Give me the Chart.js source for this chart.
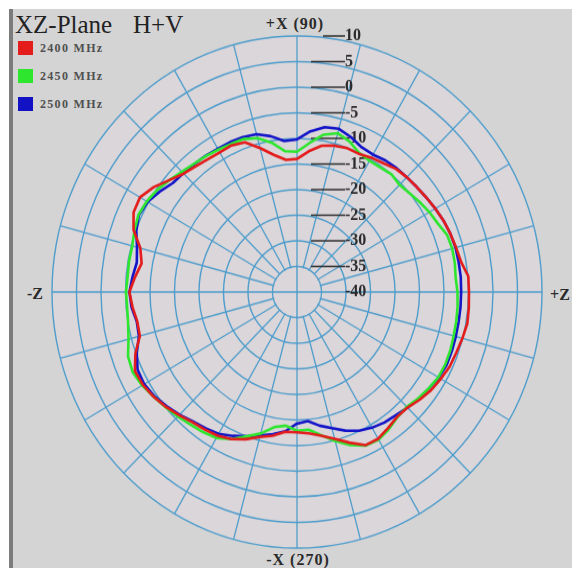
<!DOCTYPE html>
<html>
<head>
<meta charset="utf-8">
<script src="https://cdn.jsdelivr.net/npm/chart.js@4.4.1/dist/chart.umd.min.js"></script>
<style>
html,body{margin:0;padding:0;background:#fff;width:572px;height:568px;overflow:hidden;position:relative;}
#frame{position:absolute;left:9px;top:9px;width:563px;height:559px;background:#d4d4d4;border-left:4px solid #7c7c7c;box-sizing:border-box;}
#wrap{position:absolute;left:32px;top:27px;width:530px;height:530px;transform:scaleY(1.045);transform-origin:50% 50%;}
.t{position:absolute;font-family:"Liberation Serif","DejaVu Serif",serif;white-space:nowrap;color:#2a2a2a;}
.ax{font-weight:bold;font-size:16px;transform:translate(-50%,-50%);line-height:16px;}
.title{font-size:25px;line-height:25px;top:12px;color:#222;}
.sw{position:absolute;left:18px;width:15px;height:14px;}
.lg{font-size:12px;font-weight:bold;letter-spacing:1.3px;color:#505050;left:40px;line-height:12px;}
</style>
</head>
<body>
<div id="frame"></div>
<div class="t title" style="left:15px;">XZ-Plane</div>
<div class="t title" style="left:133px;">H+V</div>
<div class="sw" style="top:41px;background:#e41c1c;"></div>
<div class="sw" style="top:69px;background:#2fe62f;"></div>
<div class="sw" style="top:97px;background:#1212c4;"></div>
<div class="t lg" style="top:42px;">2400 MHz</div>
<div class="t lg" style="top:70px;">2450 MHz</div>
<div class="t lg" style="top:98px;">2500 MHz</div>
<div class="t ax" style="left:295px;top:24px;letter-spacing:1px;">+X (90)</div>
<div class="t ax" style="left:298px;top:560px;letter-spacing:1px;">-X (270)</div>
<div class="t ax" style="left:35px;top:294px;">-Z</div>
<div class="t ax" style="left:560px;top:295px;">+Z</div>
<div id="wrap"><canvas id="c" width="530" height="530"></canvas></div>
<script>
// angle in degrees: 0 = +Z (right), 90 = +X (top), 180 = -Z (left), 270 = -X (bottom)
const angles = [0,5,10,15,20,25,30,35,40,45,50,55,60,65,70,75,80,85,90,95,100,105,110,115,120,125,130,135,140,145,150,155,160,165,170,175,180,185,190,195,200,205,210,215,220,225,230,235,240,245,250,255,260,265,270,275,280,285,290,295,300,305,310,315,320,325,330,335,340,345,350,355];
const red2400 = [-4.9,-4.9,-6.0,-6.4,-6.7,-7.0,-7.4,-7.8,-8.1,-8.3,-8.6,-9.3,-9.7,-10.2,-10.1,-10.4,-11.0,-12.4,-14.0,-14.1,-12.8,-10.9,-8.9,-8.4,-8.5,-8.3,-7.9,-7.3,-6.0,-4.3,-3.0,-3.2,-4.5,-6.9,-7.8,-6.8,-5.8,-6.3,-6.9,-6.8,-4.9,-3.5,-3.7,-4.3,-5.1,-6.0,-6.8,-7.2,-7.6,-8.3,-9.4,-10.7,-11.5,-12.6,-12.6,-12.3,-11.5,-10.3,-8.7,-7.0,-6.9,-7.6,-8.2,-8.1,-7.3,-6.6,-6.1,-5.6,-5.4,-5.05,-4.7,-4.8];
const green2450 = [-7.25,-7.5,-7.3,-7.2,-7.4,-8.3,-8.8,-9.4,-10.0,-10.4,-10.0,-10.3,-10.4,-10.0,-8.7,-7.9,-8.8,-10.8,-12.6,-12.4,-10.4,-8.9,-8.2,-8.1,-7.9,-7.6,-7.3,-6.8,-6.0,-5.2,-4.6,-4.3,-4.7,-5.2,-5.2,-5.3,-5.1,-5.2,-5.0,-4.4,-3.3,-3.0,-3.5,-4.3,-5.0,-5.6,-6.2,-6.6,-7.1,-8.3,-10.0,-11.4,-13.2,-13.8,-12.9,-13.0,-11.6,-9.9,-8.2,-6.9,-6.7,-7.3,-8.1,-8.3,-7.7,-7.2,-6.7,-6.6,-6.7,-6.9,-7.0,-7.1];
const blue2500 = [-6.5,-6.45,-6.5,-6.5,-6.7,-7.0,-7.4,-7.8,-8.1,-8.3,-8.4,-8.6,-9.0,-8.8,-7.8,-7.0,-7.3,-8.5,-10.2,-10.4,-9.1,-8.1,-7.8,-7.7,-7.7,-7.5,-7.4,-7.2,-6.9,-5.8,-4.8,-4.4,-5.1,-6.2,-6.8,-6.3,-5.8,-6.1,-6.8,-6.6,-5.2,-4.1,-4.0,-4.5,-5.3,-6.1,-7.0,-7.5,-8.0,-9.0,-10.0,-11.0,-11.8,-12.7,-14.3,-14.7,-13.5,-12.5,-11.2,-10.1,-9.4,-8.9,-8.6,-8.1,-7.6,-7.15,-6.6,-6.3,-6.35,-6.45,-6.5,-6.5];
const seriesNames = ['2400 MHz','2450 MHz','2500 MHz'];
const seriesColors = ['#e41c1c','#2fe62f','#1414c8'];
const rMin = -40, rMax = 10, rStep = 5;

const GRID = '#4f9dcc';
const INNER_BG = '#dad6da';

// Chart.js radar starts at the top and runs clockwise: reorder the angle list for it.
const step = angles[1] - angles[0];
const order = angles.map((_, k) => angles.indexOf((((90 - k * step) % 360) + 360) % 360));
const labels = order.map(i => angles[i] + '°');
const pick = arr => order.map(i => arr[i]);

const polarPlugin = {
  id: 'polarDecor',
  beforeDraw(chart) {
    const s = chart.scales.r, ctx = chart.ctx;
    ctx.save();
    ctx.fillStyle = INNER_BG;
    ctx.beginPath();
    ctx.arc(s.xCenter, s.yCenter, s.drawingArea, 0, Math.PI * 2);
    ctx.fill();
    ctx.restore();
  },
  beforeDatasetsDraw(chart) {
    const s = chart.scales.r, ctx = chart.ctx;
    const r0 = s.getDistanceFromCenterForValue(rMin + rStep);
    ctx.save();
    // spokes start at the innermost ring; only the axes cross the centre
    ctx.fillStyle = INNER_BG;
    ctx.beginPath();
    ctx.arc(s.xCenter, s.yCenter, r0 - 0.9, 0, Math.PI * 2);
    ctx.fill();
    ctx.strokeStyle = GRID;
    ctx.lineWidth = 1.4;
    ctx.beginPath();
    ctx.moveTo(s.xCenter - r0, s.yCenter); ctx.lineTo(s.xCenter + r0, s.yCenter);
    ctx.moveTo(s.xCenter, s.yCenter - r0); ctx.lineTo(s.xCenter, s.yCenter + r0);
    ctx.stroke();
    // dB labels with leader lines
    ctx.font = 'bold 16px "Liberation Serif", serif';
    ctx.fillStyle = '#2a2a2a';
    ctx.textAlign = 'left';
    ctx.textBaseline = 'middle';
    s.ticks.forEach(t => {
      const y = s.yCenter - s.getDistanceFromCenterForValue(t.value);
      const x1 = s.xCenter + 48;
      if (t.value !== rMin) {
        ctx.strokeStyle = '#2f2f2f';
        ctx.lineWidth = 1.5;
        ctx.beginPath();
        ctx.moveTo(s.xCenter + (t.value === rMax ? 26 : 14), y);
        ctx.lineTo(x1, y);
        ctx.stroke();
      }
      ctx.fillText(t.label, x1, y);
    });
    ctx.restore();
  }
};

new Chart(document.getElementById('c'), {
  type: 'radar',
  data: {
    labels: labels,
    datasets: [red2400, green2450, blue2500].map((arr, i) => ({
      label: seriesNames[i],
      data: pick(arr),
      borderColor: seriesColors[i],
      borderWidth: 2.6,
      fill: false,
      pointRadius: 0,
      tension: 0
    }))
  },
  options: {
    responsive: false,
    animation: false,
    events: [],
    layout: { padding: 20 },
    elements: { line: { borderJoinStyle: 'round' } },
    plugins: { legend: { display: false }, tooltip: { enabled: false }, title: { display: false } },
    scales: {
      r: {
        min: rMin,
        max: rMax,
        startAngle: 0,
        ticks: { stepSize: rStep, display: false },
        pointLabels: { display: false },
        grid: { circular: true, color: GRID, lineWidth: 1.4 },
        angleLines: {
          color: GRID,
          lineWidth: ctx => (ctx.index % (15 / step) === 0 ? 1.3 : 0)
        }
      }
    }
  },
  plugins: [polarPlugin]
});
</script>
</body>
</html>
